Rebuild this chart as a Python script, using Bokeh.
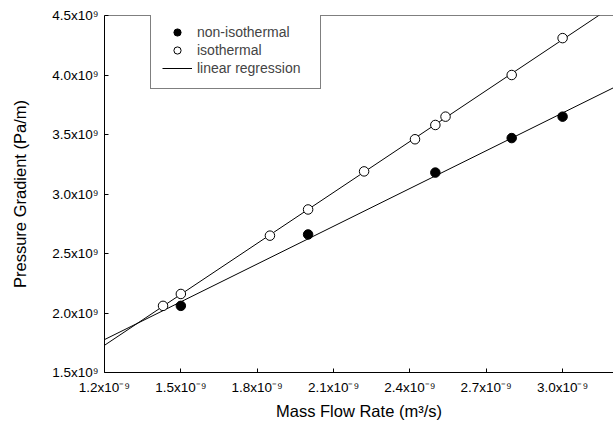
import numpy as np
from bokeh.plotting import figure
from bokeh.models import (FixedTicker, CustomJSTickFormatter, Legend, LegendItem,
                          Span)
from bokeh.embed import file_html
from bokeh.resources import INLINE

# ---- data ----
noniso_flow = [1.5e-9, 2.0e-9, 2.5e-9, 2.8e-9, 3.0e-9]
noniso_grad = [2.06e9, 2.66e9, 3.18e9, 3.47e9, 3.65e9]

iso_flow = [1.43e-9, 1.5e-9, 1.85e-9, 2.0e-9, 2.22e-9, 2.42e-9, 2.5e-9, 2.54e-9, 2.8e-9, 3.0e-9]
iso_grad = [2.06e9, 2.16e9, 2.65e9, 2.87e9, 3.19e9, 3.46e9, 3.58e9, 3.65e9, 4.0e9, 4.31e9]

x_ticks = [1.2e-9, 1.5e-9, 1.8e-9, 2.1e-9, 2.4e-9, 2.7e-9, 3.0e-9]
y_ticks = [1.5e9, 2.0e9, 2.5e9, 3.0e9, 3.5e9, 4.0e9, 4.5e9]
x_lim = [1.2e-9, 3.2e-9]
y_lim = [1.5e9, 4.5e9]

FONT = "Liberation Sans"

# linear regressions of each series
fit_x = np.array(x_lim)
c_non = np.polyfit(np.array(noniso_flow) * 1e9, np.array(noniso_grad), 1)
c_iso = np.polyfit(np.array(iso_flow) * 1e9, np.array(iso_grad), 1)
fit_non = np.polyval(c_non, fit_x * 1e9)
fit_iso = np.polyval(c_iso, fit_x * 1e9)

p = figure(width=613, height=425, x_range=tuple(x_lim), y_range=tuple(y_lim),
           output_backend="svg", toolbar_location=None,
           min_border_left=104, min_border_right=0, min_border_top=15,
           min_border_bottom=53)
p.outline_line_color = None
p.xgrid.visible = False
p.ygrid.visible = False
p.background_fill_color = "white"
p.border_fill_color = "white"

l1 = p.line(fit_x, fit_non, line_color="black", line_width=1)
p.line(fit_x, fit_iso, line_color="black", line_width=1)

r_non = p.scatter(noniso_flow, noniso_grad, marker="circle", size=9.5,
                  fill_color="black", line_color="black")
r_iso = p.scatter(iso_flow, iso_grad, marker="circle", size=9.5,
                  fill_color="white", line_color="black", line_width=1)

p.add_layout(Span(location=y_lim[1], dimension="width", line_color="black", line_width=1))

p.xaxis.ticker = FixedTicker(ticks=x_ticks)
p.yaxis.ticker = FixedTicker(ticks=y_ticks)
p.xaxis.formatter = CustomJSTickFormatter(code='return (tick*1e9).toFixed(1) + "x10\u207B\u2079";')
p.yaxis.formatter = CustomJSTickFormatter(code='return (tick/1e9).toFixed(1) + "x10\u2079";')

for ax in (p.xaxis[0], p.yaxis[0]):
    ax.major_tick_in = 4
    ax.major_tick_out = 0
    ax.minor_tick_line_color = None
    ax.axis_line_color = "black"
    ax.major_tick_line_color = "black"
    ax.major_label_text_font = FONT
    ax.major_label_text_font_size = "13.5px"
    ax.major_label_text_color = "black"
    ax.axis_label_text_font = FONT
    ax.axis_label_text_font_size = "16.5px"
    ax.axis_label_text_font_style = "normal"
    ax.axis_label_text_color = "black"

p.xaxis.axis_label = "Mass Flow Rate (m\u00b3/s)"
p.yaxis.axis_label = "Pressure Gradient (Pa/m)"
p.xaxis.major_label_standoff = 7
p.xaxis.axis_label_standoff = 4
p.yaxis.major_label_standoff = 6
p.yaxis.axis_label_standoff = 20

legend = Legend(items=[
    LegendItem(label="non-isothermal", renderers=[r_non]),
    LegendItem(label="isothermal", renderers=[r_iso]),
    LegendItem(label="linear regression", renderers=[l1]),
], location=(46, 283), glyph_width=30, glyph_height=18, spacing=0, padding=11,
   label_standoff=5, label_width=112, border_line_color="black", border_line_width=1,
   label_text_font=FONT, label_text_font_size="14px", margin=0,
   background_fill_alpha=1.0)
p.add_layout(legend)

open("out.html", "w").write(file_html(p, INLINE))
